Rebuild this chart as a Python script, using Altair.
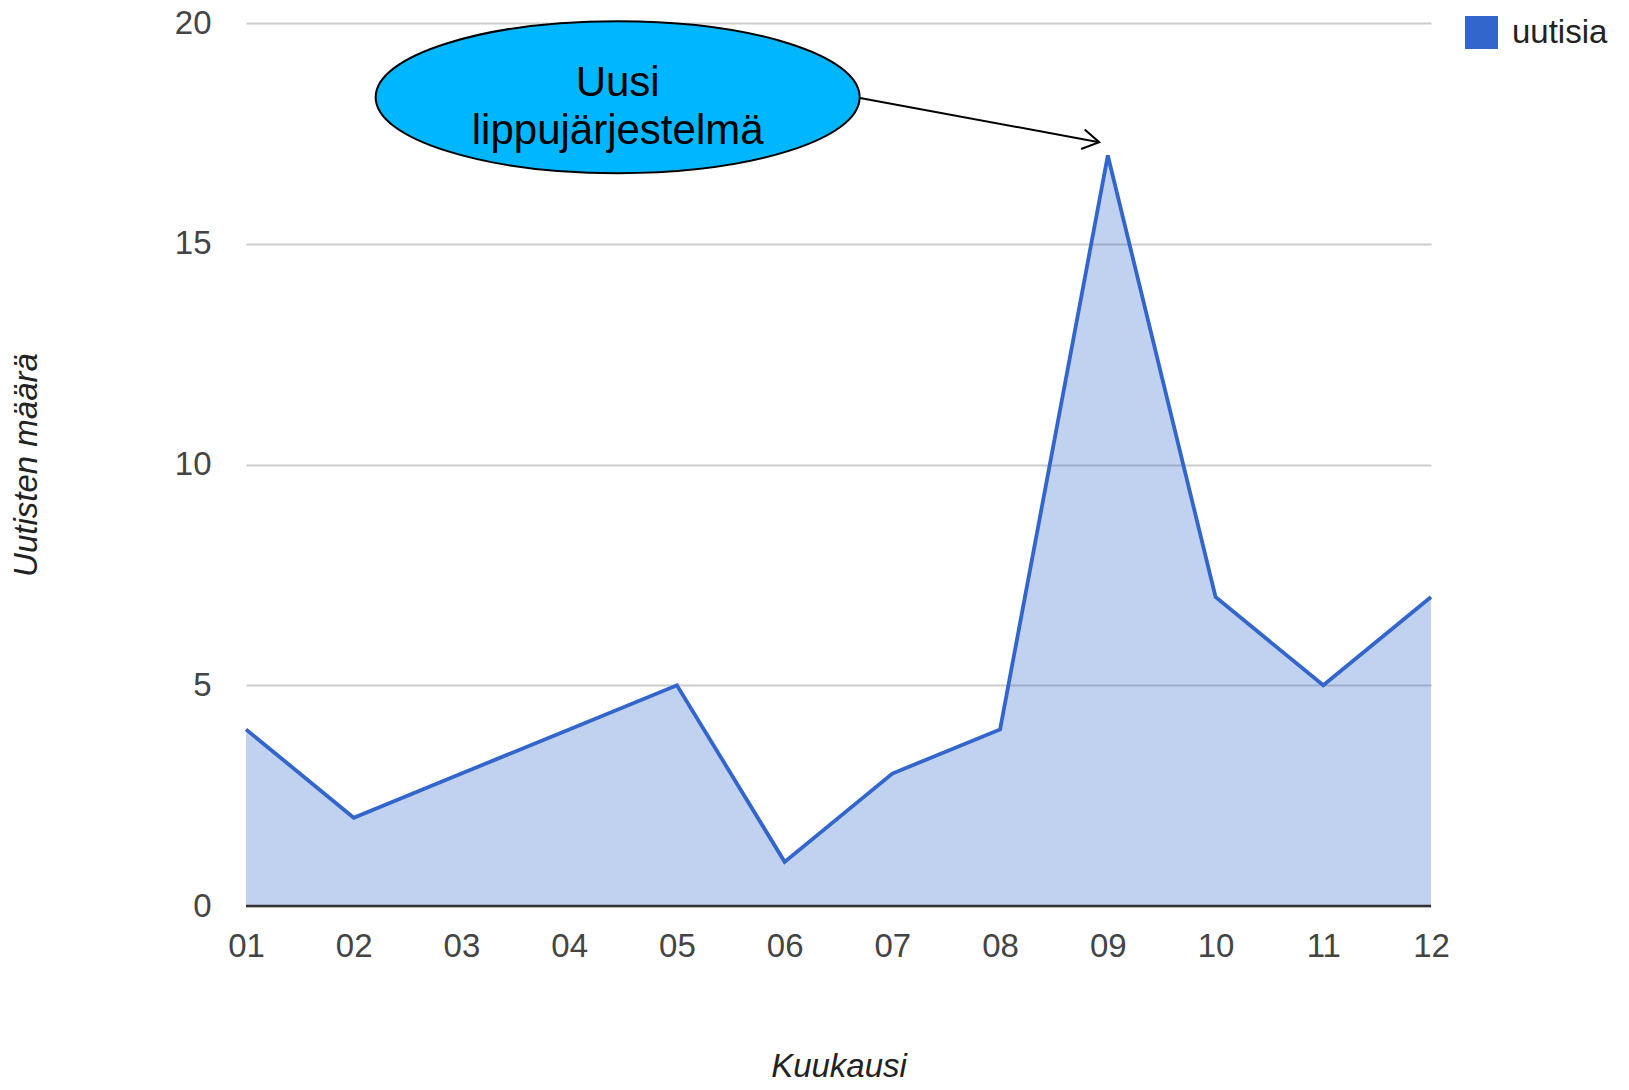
import altair as alt
import pandas as pd

# ---- data ----
months = [1, 2, 3, 4, 5, 6, 7, 8, 9, 10, 11, 12]
counts = [4, 2, 3, 4, 5, 1, 3, 4, 17, 7, 5, 7]
series_name = "uutisia"
y_ticks = [0, 5, 10, 15, 20]

# annotation (in data units)
callout_x = [4.45]
callout_y = [18.32]
callout_lines = ["Uusi", "lippujärjestelmä"]
callout_line_x = [4.45, 4.45]
callout_line_y = [18.34, 17.25]
arrow_x = [6.70]
arrow_y = [18.30]
arrow_x2 = [8.92]
arrow_y2 = [17.30]

FONT = "Liberation Sans, Arial, sans-serif"
BLUE = "#3366cc"

df = pd.DataFrame({"kk": months, "n": counts, "sarja": [series_name] * len(months)})
base_df = pd.DataFrame({"n": [0]})
ell_df = pd.DataFrame({"kk": callout_x, "n": callout_y})
txt_df = pd.DataFrame({"kk": callout_line_x, "n": callout_line_y, "t": callout_lines})
arr_df = pd.DataFrame({"kk": arrow_x, "n": arrow_y, "kk2": arrow_x2, "n2": arrow_y2})

xscale = alt.Scale(domain=[1, 12], nice=False, zero=False)
yscale = alt.Scale(domain=[0, 20], nice=False)

x_axis = alt.Axis(
    values=months,
    labelExpr="datum.value < 10 ? '0' + datum.value : '' + datum.value",
    title="Kuukausi", grid=False, domain=False, ticks=False,
    labelFont=FONT, labelFontSize=33, labelColor="#444", labelPadding=24,
    labelFlush=False, labelOverlap=False, labelBound=False,
    titleFont=FONT, titleFontSize=33, titleFontStyle="italic", titleFontWeight="normal",
    titleColor="#222", titleY=160, titleBaseline="middle",
)
y_axis = alt.Axis(
    values=y_ticks, title="Uutisten määrä",
    grid=True, gridColor="#cccccc", gridWidth=2, domain=False, ticks=False,
    labelFont=FONT, labelFontSize=33, labelColor="#444", labelPadding=35,
    labelFlush=False, labelOverlap=False, labelBound=False,
    titleFont=FONT, titleFontSize=33, titleFontStyle="italic", titleFontWeight="normal",
    titleColor="#222", titleX=-220, titleY=441.5, titleAngle=-90, titleBaseline="middle",
)

X = lambda f: alt.X(f, scale=xscale, axis=x_axis)
Y = lambda f: alt.Y(f, scale=yscale, axis=y_axis)

area = alt.Chart(df).mark_area(opacity=0.3).encode(
    x=X("kk:Q"),
    y=Y("n:Q"),
    color=alt.Color(
        "sarja:N", scale=alt.Scale(range=[BLUE]),
        legend=alt.Legend(
            title=None, orient="none", legendX=1219, legendY=-7, padding=0,
            symbolType="square", symbolSize=1089, symbolOpacity=1, symbolStrokeWidth=0,
            labelFont=FONT, labelFontSize=33, labelColor="#222", labelOffset=14, labelLimit=300,
        ),
    ),
)

line = alt.Chart(df).mark_line(color=BLUE, strokeWidth=3.8, strokeJoin="miter").encode(
    x=X("kk:Q"), y=Y("n:Q")
)

baseline = alt.Chart(base_df).mark_rule(color="#333333", strokeWidth=2.5).encode(y=Y("n:Q"))

k = 0.314
c = 0.5523 * k
ellipse_path = (
    f"M -1 0 C -1 {-c} -0.5523 {-k} 0 {-k} "
    f"C 0.5523 {-k} 1 {-c} 1 0 "
    f"C 1 {c} 0.5523 {k} 0 {k} "
    f"C -0.5523 {k} -1 {c} -1 0 Z"
)
ellipse = alt.Chart(ell_df).mark_point(
    shape=ellipse_path, size=484 * 484, filled=True, fill="#00b7ff",
    stroke="black", strokeWidth=2, opacity=1,
).encode(x=X("kk:Q"), y=Y("n:Q"))

text = alt.Chart(txt_df).mark_text(
    font=FONT, fontSize=42, color="black", align="center", baseline="alphabetic"
).encode(x=X("kk:Q"), y=Y("n:Q"), text="t:N")

arrow = alt.Chart(arr_df).mark_rule(color="black", strokeWidth=2).encode(
    x=X("kk:Q"), y=Y("n:Q"), x2="kk2:Q", y2="n2:Q"
)
head = alt.Chart(arr_df).mark_point(
    shape="M -1 -0.6 L 0 0 L -1 0.6", size=1100, filled=False,
    stroke="black", strokeWidth=2, opacity=1, angle=10.4,
).encode(x=X("kk2:Q"), y=Y("n2:Q"))

chart = alt.layer(area, line, baseline, ellipse, text, arrow, head).properties(
    width=1185, height=883,
    autosize=alt.AutoSizeParams(type="none"),
    padding={"left": 238, "top": 15, "right": 190, "bottom": 176},
    background="white",
).configure_view(stroke=None)

chart.save("out.html", embed_options={"renderer": "svg", "actions": False})
